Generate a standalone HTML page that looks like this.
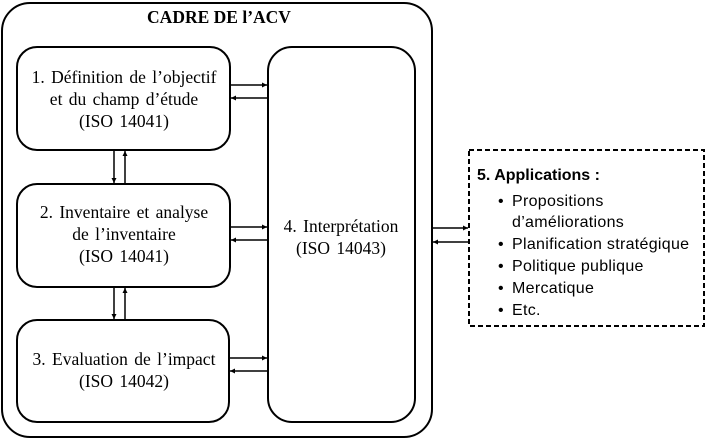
<!DOCTYPE html>
<html><head><meta charset="utf-8"><style>
body{margin:0;width:705px;height:440px;background:#fff;overflow:hidden}
</style></head><body>
<svg width="705" height="440" xmlns="http://www.w3.org/2000/svg">
<defs><marker id="a" markerWidth="6" markerHeight="6" refX="5" refY="3" orient="auto" markerUnits="userSpaceOnUse"><path d="M0,0.5 L5,3 L0,5.5 z" fill="#000"/></marker></defs>
<g fill="none" stroke="#000" stroke-width="2">
<rect x="2" y="3" width="430" height="434" rx="28"/>
<rect x="17" y="47" width="213" height="103" rx="20"/>
<rect x="17" y="184" width="213" height="103" rx="20"/>
<rect x="17" y="320" width="212" height="102" rx="20"/>
<rect x="268" y="47" width="147" height="375" rx="24"/>
<rect x="469" y="150" width="235" height="176" stroke-dasharray="5,3"/>
</g>
<g stroke="#000" stroke-width="1.5" marker-end="url(#a)">
<line x1="230" y1="85" x2="267" y2="85"/>
<line x1="268" y1="98" x2="231" y2="98"/>
<line x1="230" y1="227" x2="267" y2="227"/>
<line x1="268" y1="240" x2="231" y2="240"/>
<line x1="229" y1="358" x2="267" y2="358"/>
<line x1="268" y1="371" x2="230" y2="371"/>
<line x1="114" y1="150" x2="114" y2="183"/>
<line x1="125" y1="183" x2="125" y2="151"/>
<line x1="114" y1="287" x2="114" y2="319"/>
<line x1="125" y1="320" x2="125" y2="288"/>
<line x1="432" y1="228" x2="468" y2="228"/>
<line x1="469" y1="242" x2="433" y2="242"/>
</g>
<g font-family="Liberation Serif, serif" font-size="17.5" text-anchor="middle" fill="#000" word-spacing="2">
<text x="219" y="23" font-weight="bold" word-spacing="0">CADRE DE l’ACV</text>
<text x="124" y="83">1. Définition de l’objectif</text>
<text x="124" y="105">et du champ d’étude</text>
<text x="124" y="127">(ISO 14041)</text>
<text x="124" y="218">2. Inventaire et analyse</text>
<text x="124" y="240">de l’inventaire</text>
<text x="124" y="262">(ISO 14041)</text>
<text x="124" y="365">3. Evaluation de l’impact</text>
<text x="124" y="387">(ISO 14042)</text>
<text x="341" y="232">4. Interprétation</text>
<text x="341" y="254">(ISO 14043)</text>
</g>
<g font-family="Liberation Sans, sans-serif" font-size="16" fill="#000" letter-spacing="0.3">
<text x="477" y="180" font-weight="bold" letter-spacing="0">5. Applications :</text>
<text x="498" y="206">•</text><text x="512" y="206">Propositions</text>
<text x="512" y="227">d’améliorations</text>
<text x="498" y="249">•</text><text x="512" y="249">Planification stratégique</text>
<text x="498" y="271">•</text><text x="512" y="271">Politique publique</text>
<text x="498" y="293">•</text><text x="512" y="293">Mercatique</text>
<text x="498" y="315">•</text><text x="512" y="315">Etc.</text>
</g>
</svg>
</body></html>
